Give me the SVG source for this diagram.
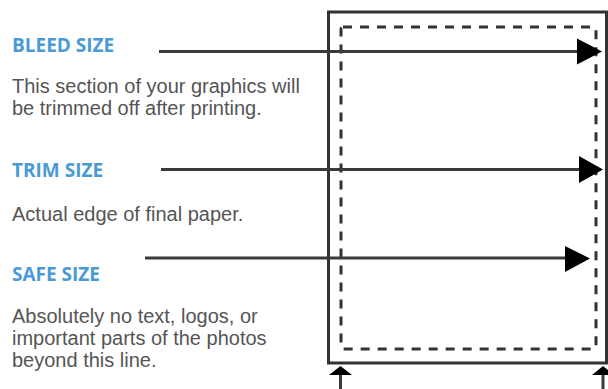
<svg xmlns="http://www.w3.org/2000/svg" width="608" height="389" viewBox="0 0 608 389">
<style>
.h{font-family:"Open Sans","Liberation Sans",sans-serif;font-weight:bold;font-size:19px;fill:#4a9ad6}
.t{font-family:"Liberation Sans",Arial,sans-serif;font-size:20px;fill:#555}
.ln{stroke:#3a3a3a;stroke-width:3;fill:none}
.hd{fill:#000}
</style>
<rect width="608" height="389" fill="#fff"/>
<g id="page">
<rect x="328.5" y="12" width="278" height="351" fill="none" stroke="#333" stroke-width="3"/>
<rect x="341" y="27" width="255" height="322" rx="2" fill="none" stroke="#333" stroke-width="3" stroke-dasharray="9 8"/>
</g>
<g id="bleed">
<text class="h" x="12" y="52">BLEED SIZE</text>
<text class="t" x="12" y="93">This section of your graphics will</text>
<text class="t" x="12" y="115">be trimmed off after printing.</text>
</g>
<g id="trim">
<text class="h" x="12" y="177">TRIM SIZE</text>
<text class="t" x="12" y="221">Actual edge of final paper.</text>
</g>
<g id="safe">
<text class="h" x="12" y="281">SAFE SIZE</text>
<text class="t" x="12" y="323">Absolutely no text, logos, or</text>
<text class="t" x="12" y="345">important parts of the photos</text>
<text class="t" x="12" y="367">beyond this line.</text>
</g>
<g id="connectors">
<line class="ln" x1="159" y1="51.5" x2="580" y2="51.5"/>
<polygon class="hd" points="577,38.5 602,51.5 577,64.5"/>
<line class="ln" x1="161" y1="169.5" x2="582" y2="169.5"/>
<polygon class="hd" points="579,156 603,169.5 579,183"/>
<line class="ln" x1="145" y1="258" x2="568" y2="258"/>
<polygon class="hd" points="565,246 590,258.5 565,272"/>
<line class="ln" x1="340.5" y1="372" x2="340.5" y2="389"/>
<polygon class="hd" points="329,375 340.5,366 352,375"/>
<line class="ln" x1="603" y1="372" x2="603" y2="389"/>
<polygon class="hd" points="592,375 603,366 614,375"/>
</g>
</svg>
